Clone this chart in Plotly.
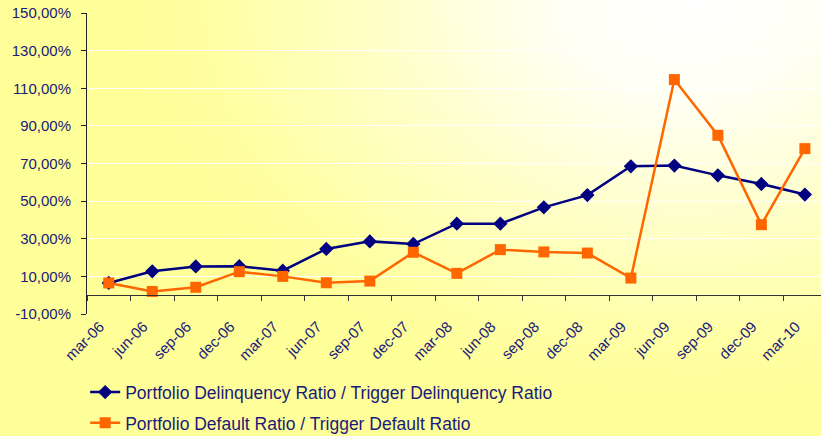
import base64
import plotly.graph_objects as go

quarters = ["mar-06", "jun-06", "sep-06", "dec-06", "mar-07", "jun-07", "sep-07", "dec-07",
            "mar-08", "jun-08", "sep-08", "dec-08", "mar-09", "jun-09", "sep-09", "dec-09", "mar-10"]
delinquency_ratio = [6.5, 12.7, 15.3, 15.4, 13.0, 24.6, 28.6, 27.2, 38.0, 38.0, 46.7, 53.2,
                     68.5, 68.9, 63.7, 59.1, 53.5]
default_ratio = [6.5, 2.0, 4.2, 12.5, 10.0, 6.6, 7.5, 22.8, 11.6, 24.2, 23.0, 22.4,
                 9.1, 114.6, 85.0, 37.5, 77.9]
y_ticks = [-10, 10, 30, 50, 70, 90, 110, 130, 150]
y_ticktext = [f"{v:.2f}".replace(".", ",") + "%" for v in y_ticks]

NAVY = "#000080"
ORANGE = "#FF6600"
TEXT = "#1a1a7a"
FONT = "Liberation Sans, Arial, sans-serif"

svg = ('<svg xmlns="http://www.w3.org/2000/svg" width="821" height="436">'
       '<defs><radialGradient id="g" gradientUnits="userSpaceOnUse" cx="690" cy="0" r="520" '
       'gradientTransform="translate(690 0) scale(1.1 0.8) translate(-690 0)">'
       '<stop offset="0" stop-color="#FFFFFF"/>'
       '<stop offset="0.25" stop-color="#FFFFF2"/>'
       '<stop offset="0.55" stop-color="#FFFFC8"/>'
       '<stop offset="0.85" stop-color="#FFFFA2"/>'
       '<stop offset="1" stop-color="#FFFF99"/>'
       '</radialGradient></defs>'
       '<rect width="821" height="436" fill="#FFFF99"/>'
       '<rect width="821" height="436" fill="url(#g)"/></svg>')
bg_src = "data:image/svg+xml;base64," + base64.b64encode(svg.encode()).decode()

fig = go.Figure()
fig.add_trace(go.Scatter(
    x=quarters, y=delinquency_ratio, mode="lines+markers",
    name="Portfolio Delinquency Ratio / Trigger Delinquency Ratio",
    line=dict(color=NAVY, width=2.5),
    marker=dict(symbol="diamond", size=11, color=NAVY),
    legendgroup="a"))
fig.add_trace(go.Scatter(
    x=quarters, y=default_ratio, mode="lines+markers",
    name="Portfolio Default Ratio / Trigger Default Ratio",
    line=dict(color=ORANGE, width=2.5),
    marker=dict(symbol="square", size=11, color=ORANGE),
    legendgroup="b"))

L, R, T, B = 87, 0, 13, 122
W, H = 821, 436
pw, ph = W - L - R, H - T - B
X_RANGE = [-0.5, 16.37]

fig.update_layout(
    width=W, height=H,
    margin=dict(l=L, r=R, t=T, b=B, autoexpand=False),
    paper_bgcolor="#FFFF99",
    plot_bgcolor="rgba(0,0,0,0)",
    font=dict(family=FONT, color=TEXT, size=15),
    showlegend=True,
    legend=dict(orientation="v", x=-0.0025, xanchor="left", y=-0.2, yanchor="top",
                bgcolor="rgba(0,0,0,0)", font=dict(size=17.5, color=TEXT),
                traceorder="grouped", tracegroupgap=5, itemwidth=30),
    images=[dict(source=bg_src, xref="paper", yref="paper",
                 x=-L / pw, y=1 + T / ph, sizex=W / pw, sizey=H / ph,
                 sizing="stretch", layer="below", xanchor="left", yanchor="top")],
    xaxis=dict(type="category", categoryorder="array", categoryarray=quarters,
               range=X_RANGE, showgrid=False, zeroline=False, showline=False,
               ticks="", tickangle=-45, ticklabelshift=-9,
               tickfont=dict(size=15, color=TEXT)),
    xaxis2=dict(overlaying="x", anchor="free", position=10 / 160, type="linear",
                range=X_RANGE, tick0=-0.5, dtick=1, ticks="outside", ticklen=5,
                tickcolor="#333333", showline=True, linecolor="#333333", linewidth=1,
                showticklabels=False, showgrid=False, zeroline=False),
    yaxis=dict(range=[-10, 150], tickvals=y_ticks, ticktext=y_ticktext,
               showgrid=True, gridcolor="white", gridwidth=1, zeroline=False,
               showline=True, linecolor="#222222", linewidth=1, ticks="outside",
               ticklen=5, tickcolor="#222222", ticklabelstandoff=7,
               tickfont=dict(size=15, color=TEXT)),
)
fig.add_trace(go.Scatter(x=X_RANGE, y=[None, None], xaxis="x2", showlegend=False,
                         hoverinfo="skip", mode="lines"))

fig.write_html("out.html", config={"displayModeBar": False})

with open("out.html", encoding="utf-8") as f:
    html = f.read()
html = html.replace("<head>", "<head><style>html,body{margin:0;padding:0;overflow:hidden;}</style>", 1)
with open("out.html", "w", encoding="utf-8") as f:
    f.write(html)
